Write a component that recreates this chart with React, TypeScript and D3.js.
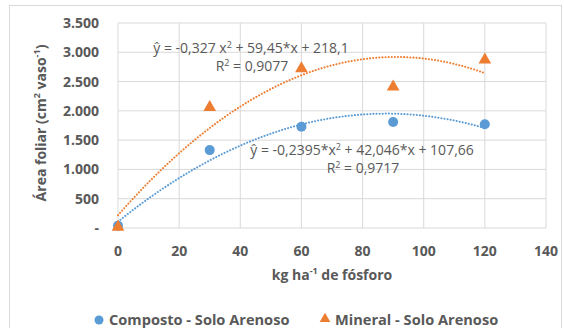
import React from 'react';
import * as d3 from 'd3';

const doses = [0, 30, 60, 90, 120];
const composto = [40, 1330, 1730, 1810, 1770];
const mineral = [15, 2060, 2720, 2410, 2870];
// trendline coefficients [a, b, c] for a*x^2 + b*x + c, as printed on the chart
const compostoFit = [-0.2395, 42.046, 107.66];
const mineralFit = [-0.327, 59.45, 218.1];
const xTicks = [0, 20, 40, 60, 80, 100, 120, 140];
const yTicks = [0, 500, 1000, 1500, 2000, 2500, 3000, 3500];

const W = 564;
const H = 328;
const font = "'Open Sans', sans-serif";
const grey = '#595959';
const blue = '#5b9bd5';
const orange = '#ed7d31';

export default function App() {
  const x = d3.scaleLinear().domain([0, 140]).range([118, 546]);
  const y = d3.scaleLinear().domain([0, 3500]).range([228, 23]);
  const fmt = (v: number) => (v === 0 ? '-' : d3.format(',')(v).replace(/,/g, '.'));

  const curve = (c: number[]) => {
    const pts = d3.range(0, 120.5, 2).map((t) => [t, c[0] * t * t + c[1] * t + c[2]] as [number, number]);
    return d3.line<[number, number]>().x((d) => x(d[0])).y((d) => y(d[1])).curve(d3.curveMonotoneX)(pts) || '';
  };
  const tri = d3.symbol().type(d3.symbolTriangle).size(70)() || '';

  return (
    <svg width={W} height={H} style={{ position: 'absolute', left: 0, top: 0, fontFamily: font }}>
      <rect x={0} y={0} width={W} height={H} fill="#fff" />
      <rect x={9.5} y={5.5} width={W - 12} height={H} fill="none" stroke="#d9d9d9" />
      {yTicks.map((t) => (
        <line key={'gy' + t} x1={x(0)} x2={x(140)} y1={y(t)} y2={y(t)} stroke="#d9d9d9" />
      ))}
      {xTicks.map((t) => (
        <line key={'gx' + t} x1={x(t)} x2={x(t)} y1={y(0)} y2={y(3500)} stroke="#d9d9d9" />
      ))}
      {yTicks.map((t) => (
        <text key={'ty' + t} x={99} y={y(t) + 5} textAnchor="end" fontSize={14} fontWeight="bold" fill={grey}>
          {fmt(t)}
        </text>
      ))}
      {xTicks.map((t) => (
        <text key={'tx' + t} x={x(t)} y={256} textAnchor="middle" fontSize={14} fontWeight="bold" fill={grey}>
          {t}
        </text>
      ))}
      <text x={332} y={280} textAnchor="middle" fontSize={14} fontWeight="bold" fill={grey}>
        kg ha<tspan dy={-6} fontSize={9}>-1</tspan>
        <tspan dy={6}> de fósforo</tspan>
      </text>
      <text transform="translate(46,123) rotate(-90)" textAnchor="middle" fontSize={14} fontWeight="bold" fill={grey}>
        Área foliar (cm<tspan dy={-6} fontSize={9}>2</tspan>
        <tspan dy={6}> vaso</tspan>
        <tspan dy={-6} fontSize={9}>-1</tspan>
        <tspan dy={6}>)</tspan>
      </text>

      <path d={curve(mineralFit)} fill="none" stroke={orange} strokeWidth={2} strokeDasharray="0.1,3" strokeLinecap="round" />
      <path d={curve(compostoFit)} fill="none" stroke={blue} strokeWidth={2} strokeDasharray="0.1,3" strokeLinecap="round" />

      {doses.map((d, i) => (
        <circle key={'c' + d} cx={x(d)} cy={y(composto[i])} r={5} fill={blue} />
      ))}
      {doses.map((d, i) => (
        <path key={'m' + d} d={tri} transform={`translate(${x(d)},${y(mineral[i])})`} fill={orange} />
      ))}

      <text x={251} y={53} textAnchor="middle" fontSize={14} fill={grey}>
        ŷ = -0,327 x<tspan dy={-5} fontSize={9}>2</tspan>
        <tspan dy={5}> + 59,45*x + 218,1</tspan>
      </text>
      <text x={252} y={71} textAnchor="middle" fontSize={14} fill={grey}>
        R<tspan dy={-5} fontSize={9}>2</tspan>
        <tspan dy={5}> = 0,9077</tspan>
      </text>
      <text x={362} y={155} textAnchor="middle" fontSize={14} fill={grey}>
        ŷ = -0,2395*x<tspan dy={-5} fontSize={9}>2</tspan>
        <tspan dy={5}> + 42,046*x + 107,66</tspan>
      </text>
      <text x={363} y={173} textAnchor="middle" fontSize={14} fill={grey}>
        R<tspan dy={-5} fontSize={9}>2</tspan>
        <tspan dy={5}> = 0,9717</tspan>
      </text>

      <circle cx={99} cy={320} r={4.5} fill={blue} />
      <text x={109} y={325} fontSize={14.6} fontWeight="bold" fill={grey}>Composto - Solo Arenoso</text>
      <path d={d3.symbol().type(d3.symbolTriangle).size(50)() || ''} transform="translate(325,319)" fill={orange} />
      <text x={335} y={325} fontSize={14.6} fontWeight="bold" fill={grey}>Mineral - Solo Arenoso</text>
    </svg>
  );
}
